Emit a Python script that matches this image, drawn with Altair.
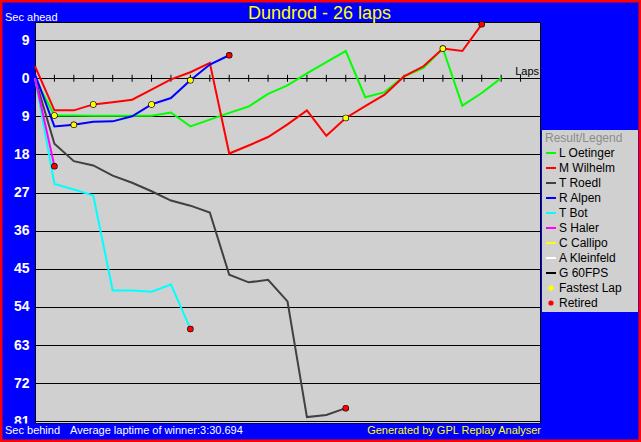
import altair as alt
import pandas as pd

FONT = "Liberation Sans"

# ---- texts ----
title_text = "Dundrod - 26 laps"
top_left_text = "Sec ahead"
bottom_left_text = "Sec behind"
avg_text = "Average laptime of winner:3:30.694"
credit_text = "Generated by GPL Replay Analyser"
laps_text = "Laps"
legend_title = "Result/Legend"

# ---- series ----
drivers = ["L Oetinger", "M Wilhelm", "T Roedl", "R Alpen", "T Bot",
           "S Haler", "C Callipo", "A Kleinfeld", "G 60FPS"]
driver_colors = ["#00FF00", "#FF0000", "#404040", "#0000FF", "#00FFFF",
                 "#FF00FF", "#FFFF00", "#FFFFFF", "#000000"]
marker_names = ["Fastest Lap", "Retired"]
marker_colors = ["#FFFF00", "#FF0000"]

# gap in seconds (positive = ahead), from lap 0
oetinger = [0.0, -8.8, -8.8, -8.9, -8.9, -8.9, -8.9, -8.1, -11.4, -9.8, -8.2, -6.7,
            -3.7, -1.7, 1.1, 3.8, 6.4, -4.5, -3.3, 0.4, 2.4, 7.0, -6.5, -3.5, 0.0]
wilhelm = [2.8, -7.6, -7.6, -6.2, -5.7, -5.1, -2.7, -0.3, 1.4, 3.6, -17.8, -15.9,
           -13.9, -10.9, -7.6, -13.6, -9.4, -6.6, -3.9, 0.4, 2.8, 7.0, 6.4, 12.7]
roedl = [0.0, -15.5, -19.6, -20.6, -23.0, -24.7, -26.7, -28.9, -30.1, -31.7,
         -46.4, -48.2, -47.6, -52.7, -80.0, -79.5, -77.9]
alpen = [0.9, -11.4, -11.0, -10.3, -10.2, -9.0, -6.2, -4.7, -0.5, 3.2, 5.4]
bot = [0.0, -25.0, -26.3, -27.7, -50.1, -50.1, -50.4, -48.7, -59.2]
haler = [0.0, -20.8]

fastest_laps = [1, 2, 3, 6, 8, 16, 21]
fastest_gaps = [-8.8, -11.0, -6.2, -6.2, -0.5, -9.4, 7.0]
retired_laps = [1, 8, 10, 16, 23]
retired_gaps = [-20.8, -59.2, 5.4, -77.9, 12.7]

lap_ticks = list(range(1, 26))
tick_gaps = [0] * len(lap_ticks)
y_ticks = [9, 0, -9, -18, -27, -36, -45, -54, -63, -72, -81]

# ---- tables ----
rows = []
for name, arr in zip(drivers, [oetinger, wilhelm, roedl, alpen, bot, haler]):
    for lap, g in enumerate(arr):
        rows.append({"series": name, "lap": lap, "gap": g})
lines_df = pd.DataFrame(rows)

mrows = []
for lap, g in zip(fastest_laps, fastest_gaps):
    mrows.append({"series": "Fastest Lap", "lap": lap, "gap": g})
for lap, g in zip(retired_laps, retired_gaps):
    mrows.append({"series": "Retired", "lap": lap, "gap": g})
markers_df = pd.DataFrame(mrows)

ticks_df = pd.DataFrame({"lap": lap_ticks, "gap": tick_gaps})

# ---- scales / encodings ----
series_domain = drivers + marker_names
LINE_PATH = "M-1,0L1,0"
DOT_PATH = "M0.32,0A0.32,0.32,0,1,1,-0.32,0A0.32,0.32,0,1,1,0.32,0Z"

stroke_scale = alt.Scale(domain=series_domain, range=driver_colors + marker_colors)
fill_scale = alt.Scale(domain=series_domain, range=driver_colors + marker_colors)
shape_scale = alt.Scale(domain=series_domain, range=[LINE_PATH] * len(drivers) + [DOT_PATH] * 2)

x_enc = alt.X("lap:Q", scale=alt.Scale(domain=[0, 26], nice=False, zero=False), axis=None)
y_enc = alt.Y(
    "gap:Q",
    scale=alt.Scale(domain=[-81.4, 13.25], nice=False, zero=False),
    axis=alt.Axis(values=y_ticks, labelExpr="abs(datum.value)", grid=True,
                  gridColor="black", gridWidth=1, gridOpacity=1, ticks=False,
                  domain=False, labelColor="white", labelFont=FONT,
                  labelFontSize=14, labelFontWeight="bold", labelPadding=6,
                  labelFlush=False, labelOverlap=False, title=None),
)

leg = alt.Legend(orient="none", legendX=507, legendY=108, title=legend_title,
                 titleColor="#8C8C8C", titleFont=FONT, titleFontSize=12,
                 titleFontWeight="normal", titlePadding=2, titleAnchor="start",
                 labelFont=FONT, labelFontSize=12, labelColor="black",
                 labelOffset=2, rowPadding=3, padding=3, fillColor="#D0D0D0",
                 symbolSize=100, symbolStrokeWidth=2, symbolOpacity=1,
                 cornerRadius=0)

# gray panel behind the legend (the legend box of the source is a bit wider)
legend_panel = alt.Chart(pd.DataFrame({"k": [0]})).mark_rect(color="#D0D0D0", opacity=1).encode(
    x=alt.value(507), x2=alt.value(603), y=alt.value(108), y2=alt.value(290)
)

ticks = alt.Chart(ticks_df).mark_tick(orient="vertical", size=7, thickness=1,
                                      color="black", opacity=1).encode(x=x_enc, y=y_enc)

lines = alt.Chart(lines_df).mark_line(strokeWidth=2, opacity=1).encode(
    x=x_enc, y=y_enc,
    stroke=alt.Stroke("series:N", scale=stroke_scale, legend=leg),
    order="lap:Q",
)

marker_base = alt.Chart(markers_df).mark_point(
    filled=True, shape="circle", size=42, color="black", opacity=1
).encode(x=x_enc, y=y_enc)

markers = alt.Chart(markers_df).mark_point(
    filled=True, size=100, strokeWidth=2, opacity=1
).encode(
    x=x_enc, y=y_enc,
    fill=alt.Fill("series:N", scale=fill_scale, legend=leg),
    stroke=alt.Stroke("series:N", scale=stroke_scale, legend=leg),
    shape=alt.Shape("series:N", scale=shape_scale, legend=leg),
)

# blue status strip under the plot (hides the lower half of the "81" label as in the source)
strip = alt.Chart(pd.DataFrame({"k": [0]})).mark_rect(color="#0000FF", opacity=1).encode(
    x=alt.value(-33), x2=alt.value(506), y=alt.value(401.6), y2=alt.value(417)
)

# thin red window frame
frame = alt.Chart(pd.DataFrame({"k": [0]})).mark_rect(
    fillOpacity=0, stroke="#FF0000", strokeWidth=2.5
).encode(x=alt.value(-33.8), x2=alt.value(604.8), y=alt.value(-20.8), y2=alt.value(418.8))


def label(text, x, y, size, color, align="left"):
    return alt.Chart(pd.DataFrame({"t": [text]})).mark_text(
        font=FONT, fontSize=size, color=color, align=align, baseline="alphabetic"
    ).encode(text="t:N", x=alt.value(x), y=alt.value(y))


texts = [
    label(title_text, 284.5, -3, 18, "#FFFF00", "center"),
    label(top_left_text, -30, -1.5, 11, "white"),
    label(bottom_left_text, -30, 412.3, 11, "white"),
    label(avg_text, 35, 412.3, 11, "white"),
    label(credit_text, 506, 412.3, 11, "#FFFF00", "right"),
    label(laps_text, 504, 52.5, 11, "black", "right"),
]

chart = alt.layer(legend_panel, ticks, lines, marker_base, markers, strip, frame, *texts).properties(
    width=505, height=401,
    autosize=alt.AutoSizeParams(type="none"),
    padding={"left": 35, "top": 22, "right": 101, "bottom": 19},
    background="#0000FF",
).configure_view(fill="#D0D0D0", stroke="black", strokeWidth=1)

chart.save("out.html", embed_options={
    "renderer": "svg", "actions": False,
    "defaultStyle": "html,body{margin:0;padding:0;overflow:hidden;} .vega-embed{display:block;}",
})
